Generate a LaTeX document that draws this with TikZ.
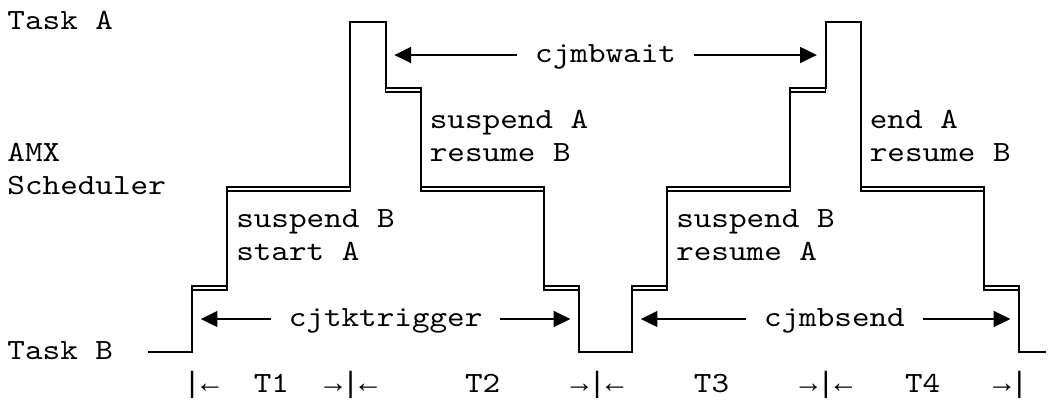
\documentclass[tikz,border=0pt]{standalone}
\usepackage{fontspec}
\newfontfamily\codefont{lmmono10-regular}[Extension=.otf, FakeStretch=1.1429]
\newfontfamily\arrowfont{Liberation Mono}
\usetikzlibrary{arrows.meta}

\begin{document}
\begin{tikzpicture}
[x=13.2pt, y=24.75pt, line join=miter,
txt/.style={font=\codefont\fontsize{22}{24.75}\selectfont, inner sep=0pt, text height=14pt, text depth=2.8pt, anchor=west},
callname/.style={txt, anchor=center, inner xsep=13.2pt},
wave/.style={draw=black, line width=1.4pt},
strand/.style={draw=black, line width=1.3pt},
call/.style={draw=black, line width=1pt, -{Triangle[length=12.5pt, width=12pt]}}]

\useasboundingbox (-0.909,0.667) rectangle (58.636,-11.455);

% task levels
\node[txt] (taska) at (-0.5,0) {Task A};
\node[txt] (amx) at (-0.5,-4) {AMX};
\node[txt] (sched) at (-0.5,-5) {Scheduler};
\node[txt] (taskb) at (-0.5,-10) {Task B};

% waveform
\coordinate (bstart) at (7.5,-10);
\coordinate (bend) at (58.5,-10);
\draw[wave] (bstart) -- (10,-10) -- (10,-8) -- (12,-8) -- (12,-5) -- (19,-5) -- (19,0)
  -- (21,0) -- (21,-2) -- (23,-2) -- (23,-5) -- (30,-5) -- (30,-8) -- (32,-8) -- (32,-10)
  -- (35,-10) -- (35,-8) -- (37,-8) -- (37,-5) -- (44,-5) -- (44,-2) -- (46,-2) -- (46,0)
  -- (48,0) -- (48,-5) -- (55,-5) -- (55,-8) -- (57,-8) -- (57,-10) -- (bend);

% second line of the double steps
\foreach \a/\b/\r in {10/12/8, 12/19/5, 21/23/2, 23/30/5, 30/32/8, 35/37/8, 37/44/5, 44/46/2, 48/55/5, 55/57/8}
  \draw[strand] (\a,-\r) -- (\a,-\r-0.11) -- (\b,-\r-0.11) -- (\b,-\r);

% switch notes
\node[txt] (suspa) at (23.5,-3) {suspend A};
\node[txt] (resb) at (23.5,-4) {resume B};
\node[txt] (suspb) at (12.5,-6) {suspend B};
\node[txt] (starta) at (12.5,-7) {start A};
\node[txt] (suspbb) at (37.5,-6) {suspend B};
\node[txt] (resa) at (37.5,-7) {resume A};
\node[txt] (enda) at (48.5,-3) {end A};
\node[txt] (resbb) at (48.5,-4) {resume B};

% calls
\node[callname] (wait) at (33.5,-1) {cjmbwait};
\node[callname] (trig) at (21,-9) {cjtktrigger};
\node[callname] (send) at (46.5,-9) {cjmbsend};

\coordinate (waitL) at (21.5,-1);
\coordinate (waitR) at (45.5,-1);
\coordinate (trigL) at (10.5,-9);
\coordinate (trigR) at (31.5,-9);
\coordinate (sendL) at (35.5,-9);
\coordinate (sendR) at (56.5,-9);

\draw[call] (wait.west) -- (waitL);
\draw[call] (wait.east) -- (waitR);
\draw[call] (trig.west) -- (trigL);
\draw[call] (trig.east) -- (trigR);
\draw[call] (send.west) -- (sendL);
\draw[call] (send.east) -- (sendR);

% intervals
\node[txt] (times) at (9.5,-11) {{\arrowfont |←}~~T1~~{\arrowfont →|←}~~~~~T2~~~~{\arrowfont →|←}~~~~T3~~~~{\arrowfont →|←}~~~T4~~~{\arrowfont →|}};
\end{tikzpicture}
\end{document}
